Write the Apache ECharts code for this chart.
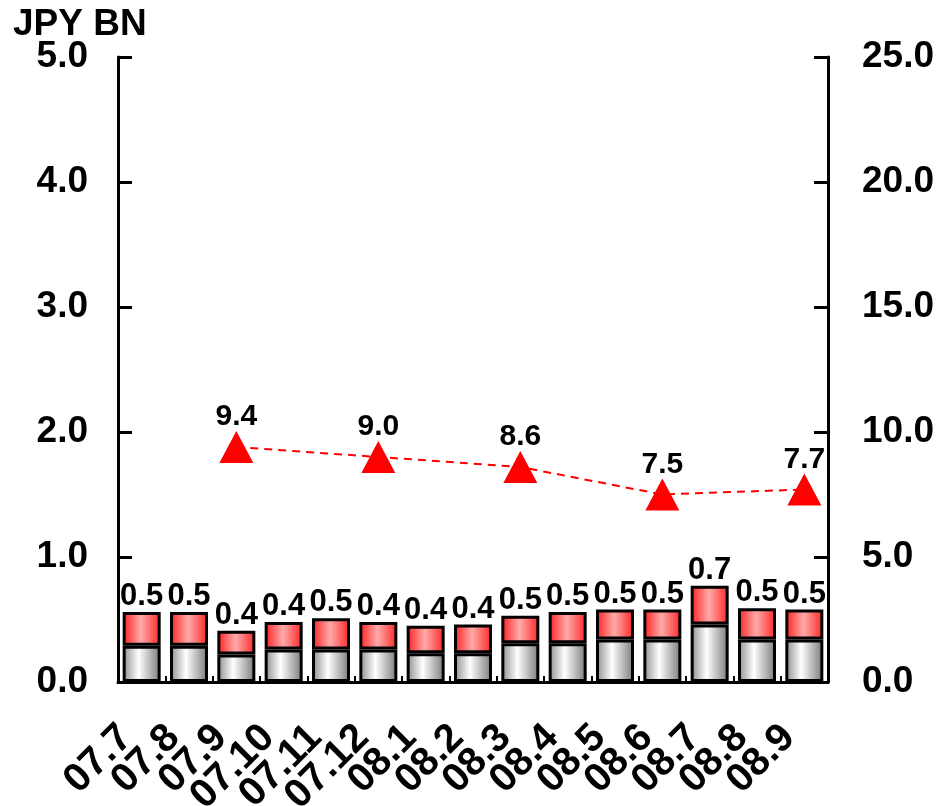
<!DOCTYPE html>
<html>
<head>
<meta charset="utf-8">
<script src="https://cdn.jsdelivr.net/npm/echarts@6/dist/echarts.min.js"></script>
<style>
  html, body { margin: 0; padding: 0; background: #fff; }
  #chart { width: 941px; height: 806px; }
</style>
</head>
<body>
<div id="chart"></div>
<script>
// Monthly categories
const months = ['07.7', '07.8', '07.9', '07.10', '07.11', '07.12', '08.1', '08.2',
                '08.3', '08.4', '08.5', '08.6', '08.7', '08.8', '08.9'];

// Lower (grey) and upper (red) stacked segments, JPY BN
const lowerPart = [0.29, 0.29, 0.22, 0.26, 0.26, 0.26, 0.23, 0.23, 0.31, 0.31, 0.34, 0.34, 0.46, 0.34, 0.34];
const upperPart = [0.27, 0.27, 0.19, 0.22, 0.25, 0.22, 0.22, 0.23, 0.22, 0.25, 0.24, 0.24, 0.31, 0.25, 0.24];

// Quarterly values on the right axis (null = no reading that month)
const quarterly = [null, null, 9.4, null, null, 9.0, null, null, 8.6, null, null, 7.5, null, null, 7.7];

// Axis ticks
const leftTicks = [0, 1, 2, 3, 4, 5];
const rightTicks = [0, 5, 10, 15, 20, 25];

const totals = lowerPart.map((v, i) => v + upperPart[i]);

const FONT = 'Arial, "Liberation Sans", sans-serif';

const greyFill = {
  type: 'linear', x: 0, y: 0, x2: 1, y2: 0,
  colorStops: [
    { offset: 0, color: '#8a8a8a' },
    { offset: 0.42, color: '#ffffff' },
    { offset: 1, color: '#767676' }
  ]
};
const redFill = {
  type: 'linear', x: 0, y: 0, x2: 1, y2: 0,
  colorStops: [
    { offset: 0, color: '#ff1e1e' },
    { offset: 0.48, color: '#ffaaaa' },
    { offset: 1, color: '#ff2424' }
  ]
};

const chart = echarts.init(document.getElementById('chart'), null, { renderer: 'canvas' });

chart.setOption({
  backgroundColor: '#ffffff',
  animation: false,
  title: {
    text: 'JPY BN',
    left: 8, top: 1,
    textStyle: { fontFamily: FONT, fontSize: 37, fontWeight: 'bold', color: '#000' }
  },
  grid: { left: 118, right: 113, top: 57, bottom: 124, containLabel: false, outerBoundsMode: 'none' },
  xAxis: {
    type: 'category',
    data: months,
    axisLine: { lineStyle: { color: '#000', width: 3 } },
    axisTick: { show: true, inside: true, length: 6, alignWithLabel: false, lineStyle: { color: '#000', width: 2 } },
    axisLabel: {
      rotate: 45,
      margin: 34,
      padding: [0, 22, 0, 0],
      interval: 0,
      hideOverlap: false,
      fontFamily: FONT, fontSize: 40, fontWeight: 'bold', color: '#000'
    },
    splitLine: { show: false }
  },
  yAxis: [
    {
      type: 'value',
      min: leftTicks[0], max: leftTicks[leftTicks.length - 1], interval: 1,
      axisLine: { show: true, lineStyle: { color: '#000', width: 3 } },
      axisTick: { show: true, inside: true, length: 14, lineStyle: { color: '#000', width: 3 } },
      axisLabel: {
        margin: 30,
        formatter: v => v.toFixed(1),
        fontFamily: FONT, fontSize: 37, fontWeight: 'bold', color: '#000'
      },
      splitLine: { show: false }
    },
    {
      type: 'value',
      position: 'right',
      min: rightTicks[0], max: rightTicks[rightTicks.length - 1], interval: 5,
      axisLine: { show: true, lineStyle: { color: '#000', width: 3 } },
      axisTick: { show: true, inside: true, length: 14, lineStyle: { color: '#000', width: 3 } },
      axisLabel: {
        margin: 34,
        formatter: v => v.toFixed(1),
        fontFamily: FONT, fontSize: 37, fontWeight: 'bold', color: '#000'
      },
      splitLine: { show: false }
    }
  ],
  series: [
    {
      name: 'lower',
      type: 'bar',
      stack: 'total',
      barWidth: 38,
      data: lowerPart,
      itemStyle: { color: greyFill, borderColor: '#000', borderWidth: 3 }
    },
    {
      name: 'upper',
      type: 'bar',
      stack: 'total',
      barWidth: 38,
      data: upperPart,
      itemStyle: { color: redFill, borderColor: '#000', borderWidth: 3 },
      label: {
        show: true,
        position: 'top',
        distance: 0,
        formatter: p => (Math.floor(totals[p.dataIndex] * 10 + 1e-9) / 10).toFixed(1),
        fontFamily: FONT, fontSize: 31, fontWeight: 'bold', color: '#000'
      }
    },
    {
      name: 'quarterly',
      type: 'line',
      yAxisIndex: 1,
      data: quarterly,
      connectNulls: true,
      z: 5,
      symbol: 'triangle',
      symbolSize: [34, 32],
      itemStyle: { color: '#ff0000' },
      lineStyle: { color: '#ff0000', width: 2, type: [8, 6] },
      label: {
        show: true,
        position: 'top',
        distance: -1,
        formatter: p => p.value.toFixed(1),
        fontFamily: FONT, fontSize: 30, fontWeight: 'bold', color: '#000'
      }
    }
  ]
});
</script>
</body>
</html>
